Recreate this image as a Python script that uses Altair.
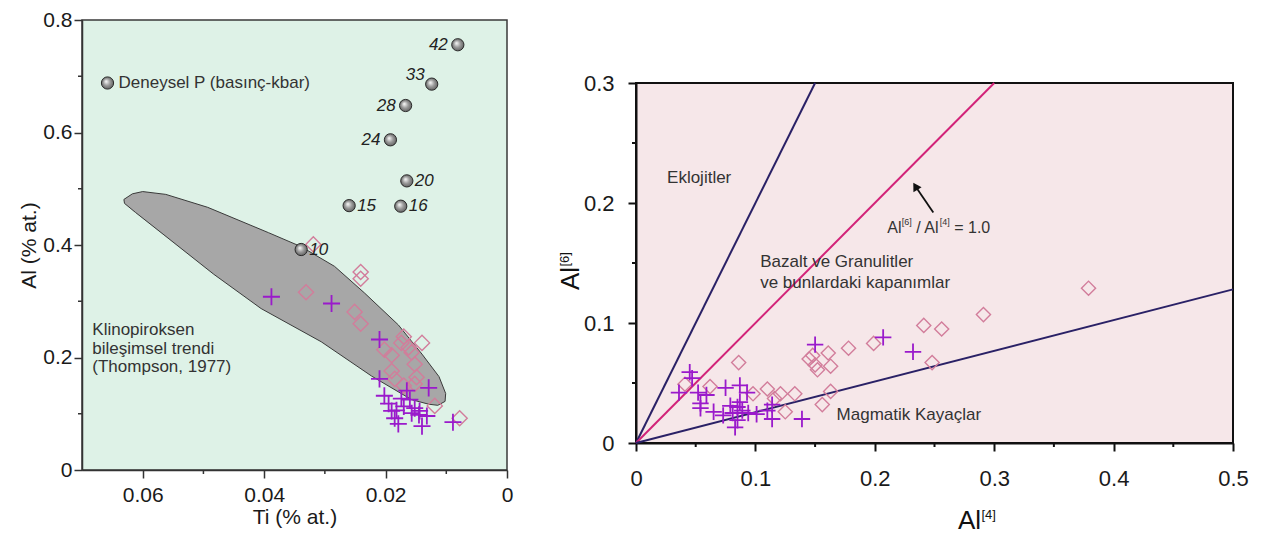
import altair as alt
import pandas as pd

FONT = "Liberation Sans"

# ---------------- Left panel data (Ti vs Al) ----------------
L_X_TICKS = [0.06, 0.04, 0.02, 0]
L_X_MINOR = [0.05, 0.03, 0.01]
L_Y_TICKS = [0, 0.2, 0.4, 0.6, 0.8]
L_Y_MINOR = [0.1, 0.3, 0.5, 0.7]

P_TI = [0.0081, 0.0124, 0.0167, 0.0192, 0.0165, 0.0175, 0.0260, 0.0339]
P_AL = [0.756, 0.686, 0.648, 0.587, 0.514, 0.469, 0.470, 0.392]
P_LABEL = ["42", "33", "28", "24", "20", "16", "15", "10"]

LEGEND_TI = [0.0658]
LEGEND_AL = [0.688]
LEGEND_TEXT = ["Deneysel P (basınç-kbar)"]

TREND_TI = [0.0631, 0.0617, 0.0600, 0.0562, 0.0493, 0.0393, 0.0339, 0.0284, 0.0235,
            0.0179, 0.0140, 0.0112, 0.0101, 0.0102, 0.0114, 0.0129, 0.0157, 0.0223,
            0.0306, 0.0405, 0.0483, 0.0565, 0.0612, 0.0630, 0.0631]
TREND_AL = [0.481, 0.491, 0.495, 0.490, 0.467, 0.422, 0.397, 0.362, 0.315,
            0.258, 0.206, 0.166, 0.136, 0.122, 0.115, 0.117, 0.125, 0.167,
            0.228, 0.287, 0.348, 0.418, 0.458, 0.474, 0.481]
TREND_TEXT = ["Klinopiroksen", "bileşimsel trendi", "(Thompson, 1977)"]
TREND_TEXT_TI = [0.0683, 0.0683, 0.0683]
TREND_TEXT_AL = [0.249, 0.216, 0.183]

L_CROSS_TI = [0.0388, 0.0289, 0.0210, 0.0210, 0.0129, 0.0202, 0.0195, 0.0190, 0.0185,
              0.0179, 0.0165, 0.0160, 0.0170, 0.0152, 0.0145, 0.0140, 0.0132, 0.0144,
              0.0089, 0.0157, 0.0174, 0.0182]
L_CROSS_AL = [0.308, 0.296, 0.232, 0.162, 0.146, 0.132, 0.118, 0.105, 0.092,
              0.082, 0.141, 0.125, 0.113, 0.110, 0.098, 0.078, 0.096, 0.105,
              0.085, 0.101, 0.127, 0.106]

L_DIAM_TI = [0.0319, 0.0241, 0.0241, 0.0331, 0.0251, 0.0241, 0.0170, 0.0174, 0.0162,
             0.0157, 0.0140, 0.0202, 0.0190, 0.0152, 0.0190, 0.0185, 0.0149, 0.0152,
             0.0170, 0.0119, 0.0078]
L_DIAM_AL = [0.401, 0.352, 0.340, 0.316, 0.281, 0.260, 0.237, 0.226, 0.218,
             0.209, 0.226, 0.214, 0.204, 0.188, 0.176, 0.162, 0.165, 0.153,
             0.150, 0.114, 0.092]

# ---------------- Right panel data (Al[4] vs Al[6]) ----------------
R_X_TICKS = [0, 0.1, 0.2, 0.3, 0.4, 0.5]
R_X_MINOR = [0.05, 0.15, 0.25, 0.35, 0.45]
R_Y_TICKS = [0, 0.1, 0.2, 0.3]
R_Y_MINOR = [0.05, 0.15, 0.25]

R_CROSS_X = [0.036, 0.045, 0.047, 0.052, 0.054, 0.059, 0.054, 0.075, 0.065, 0.087,
             0.093, 0.079, 0.081, 0.085, 0.083, 0.087, 0.089, 0.073, 0.094, 0.101,
             0.110, 0.114, 0.114, 0.139, 0.150, 0.207, 0.232, 0.085]
R_CROSS_Y = [0.042, 0.059, 0.054, 0.042, 0.033, 0.040, 0.029, 0.046, 0.026, 0.048,
             0.042, 0.031, 0.025, 0.019, 0.013, 0.034, 0.027, 0.023, 0.025, 0.024,
             0.027, 0.032, 0.020, 0.020, 0.082, 0.088, 0.076, 0.030]

R_DIAM_X = [0.041, 0.062, 0.086, 0.098, 0.110, 0.116, 0.121, 0.133, 0.125, 0.145,
            0.148, 0.150, 0.152, 0.161, 0.163, 0.156, 0.163, 0.178, 0.199, 0.241,
            0.256, 0.248, 0.291, 0.379]
R_DIAM_Y = [0.049, 0.047, 0.067, 0.041, 0.045, 0.037, 0.041, 0.041, 0.026, 0.070,
            0.073, 0.065, 0.061, 0.075, 0.064, 0.032, 0.043, 0.079, 0.083, 0.098,
            0.095, 0.067, 0.107, 0.129]

LINE_STEEP_X = [0, 0.15]
LINE_STEEP_Y = [0, 0.3]
LINE_ONE_X = [0, 0.3]
LINE_ONE_Y = [0, 0.3]
LINE_LOW_X = [0, 0.5]
LINE_LOW_Y = [0, 0.128]

ARROW_TAIL = (0.249, 0.192)
ARROW_HEAD = (0.234, 0.214)

R_TEXT = ["Eklojitler", "Bazalt ve Granulitler", "ve bunlardaki kapanımlar", "Magmatik Kayaçlar"]
R_TEXT_X = [0.026, 0.104, 0.104, 0.168]
R_TEXT_Y = [0.221, 0.151, 0.133, 0.023]

RATIO_POS = (0.2104, 0.179)

# ---------------- sizes & styles ----------------
W_L, H_L = 425, 450
W_R, H_R = 597, 360
SPACER_H = 50
CROSS_COLOR = "#9A1ACB"
DIAM_COLOR = "#D27D9B"
PLUS = "M-1,0L1,0M0,-1L0,1"
TXT = "#333333"

# ---------------- Left chart ----------------
xL_scale = alt.Scale(domain=[0.07, 0], nice=False, zero=False)
yL_scale = alt.Scale(domain=[0, 0.8], nice=False)
xL_axis = alt.Axis(values=L_X_TICKS, format="~g", title="Ti (% at.)", labelFlush=False,
                   tickSize=8, labelPadding=6, titlePadding=1, labelFontSize=21,
                   titleFontSize=21, domainColor="#333", tickColor="#333")
yL_axis = alt.Axis(values=L_Y_TICKS, format="~g", title="Al (% at.)", tickSize=8,
                   labelPadding=2, titlePadding=3, labelFontSize=21, titleFontSize=21,
                   domainColor="#333", tickColor="#333")


def XL(f="x"):
    return alt.X(f"{f}:Q", scale=xL_scale, axis=xL_axis)


def YL(f="y"):
    return alt.Y(f"{f}:Q", scale=yL_scale, axis=yL_axis)


trend_df = pd.DataFrame({"x": TREND_TI, "y": TREND_AL, "i": list(range(len(TREND_TI)))})
trend = alt.Chart(trend_df).mark_line(fill="#a7a7a7", stroke="#3a3a3a", strokeWidth=1).encode(
    x=XL(), y=YL(), order="i:Q")

trend_txt = alt.Chart(pd.DataFrame({"x": TREND_TEXT_TI, "y": TREND_TEXT_AL, "t": TREND_TEXT})).mark_text(
    align="left", baseline="middle", fontSize=17, color=TXT, font=FONT).encode(x=XL(), y=YL(), text="t:N")

l_diam = alt.Chart(pd.DataFrame({"x": L_DIAM_TI, "y": L_DIAM_AL})).mark_point(
    shape="diamond", filled=False, color=DIAM_COLOR, size=230, strokeWidth=1.4, opacity=1).encode(x=XL(), y=YL())

l_cross = alt.Chart(pd.DataFrame({"x": L_CROSS_TI, "y": L_CROSS_AL})).mark_point(
    shape=PLUS, filled=False, color=CROSS_COLOR, size=290, strokeWidth=1.8, opacity=1).encode(x=XL(), y=YL())

grad = alt.RadialGradient(
    gradient="radial",
    stops=[alt.GradientStop(color="#ffffff", offset=0),
           alt.GradientStop(color="#9c9c9c", offset=0.5),
           alt.GradientStop(color="#5a5a5a", offset=1)],
    x1=0.38, y1=0.36, r1=0.0, x2=0.5, y2=0.5, r2=0.55)

p_df = pd.DataFrame({"x": P_TI, "y": P_AL, "label": P_LABEL})
p_pts = alt.Chart(p_df).mark_point(shape="circle", filled=True, fill=grad, stroke="#2a2a2a",
                                   strokeWidth=1, size=150, opacity=1).encode(x=XL(), y=YL())
leg_df = pd.DataFrame({"x": LEGEND_TI, "y": LEGEND_AL, "t": LEGEND_TEXT})
leg_pt = alt.Chart(leg_df).mark_point(shape="circle", filled=True, fill=grad, stroke="#2a2a2a",
                                      strokeWidth=1, size=150, opacity=1).encode(x=XL(), y=YL())
leg_txt = alt.Chart(leg_df).mark_text(align="left", baseline="middle", dx=11, fontSize=17,
                                      color=TXT, font=FONT).encode(x=XL(), y=YL(), text="t:N")

lab_left = alt.Chart(p_df).transform_filter(
    alt.FieldOneOfPredicate(field="label", oneOf=["42", "28", "24"])).mark_text(
    align="right", baseline="middle", dx=-10, fontSize=17, fontStyle="italic", color="#222",
    font=FONT).encode(x=XL(), y=YL(), text="label:N")
lab_up = alt.Chart(p_df).transform_filter(
    alt.FieldOneOfPredicate(field="label", oneOf=["33"])).mark_text(
    align="right", baseline="middle", dx=-7, dy=-9, fontSize=17, fontStyle="italic", color="#222",
    font=FONT).encode(x=XL(), y=YL(), text="label:N")
lab_right = alt.Chart(p_df).transform_filter(
    alt.FieldOneOfPredicate(field="label", oneOf=["20", "16", "15", "10"])).mark_text(
    align="left", baseline="middle", dx=8, fontSize=17, fontStyle="italic", color="#222",
    font=FONT).encode(x=XL(), y=YL(), text="label:N")

l_minx = alt.Chart(pd.DataFrame({"x": L_X_MINOR})).mark_rule(color="#333", strokeWidth=1.5).encode(
    x=XL(), y=alt.value(H_L), y2=alt.value(H_L + 4))
l_miny = alt.Chart(pd.DataFrame({"y": L_Y_MINOR})).mark_rule(color="#333", strokeWidth=1.5).encode(
    y=YL(), x=alt.value(0), x2=alt.value(-4))

left = alt.layer(trend, trend_txt, l_diam, l_cross, p_pts, leg_pt, leg_txt, lab_left, lab_up,
                 lab_right, l_minx, l_miny).properties(
    width=W_L, height=H_L,
    view=alt.ViewBackground(fill="#DEF2E7", stroke="#3a3a3a", strokeWidth=1.5))

# ---------------- Right chart ----------------
xR_scale = alt.Scale(domain=[0, 0.5], nice=False)
yR_scale = alt.Scale(domain=[0, 0.3], nice=False)
xR_axis = alt.Axis(values=R_X_TICKS, format="~g", title=None, labelFlush=False, tickSize=8,
                   labelPadding=17, labelFontSize=22, domainColor="#111", tickColor="#111",
                   domainWidth=2, tickWidth=2)
yR_axis = alt.Axis(values=R_Y_TICKS, format="~g", title=None, tickSize=8, labelPadding=14,
                   labelFontSize=22, domainColor="#111", tickColor="#111", domainWidth=2, tickWidth=2)


def XR(f="x"):
    return alt.X(f"{f}:Q", scale=xR_scale, axis=xR_axis)


def YR(f="y"):
    return alt.Y(f"{f}:Q", scale=yR_scale, axis=yR_axis)


def line(xs, ys, color):
    return alt.Chart(pd.DataFrame({"x": xs, "y": ys})).mark_line(color=color, strokeWidth=2).encode(
        x=XR(), y=YR())


l1 = line(LINE_STEEP_X, LINE_STEEP_Y, "#2A2166")
l2 = line(LINE_ONE_X, LINE_ONE_Y, "#D22378")
l3 = line(LINE_LOW_X, LINE_LOW_Y, "#2A2166")

r_diam = alt.Chart(pd.DataFrame({"x": R_DIAM_X, "y": R_DIAM_Y})).mark_point(
    shape="diamond", filled=False, color=DIAM_COLOR, size=200, strokeWidth=1.4, opacity=1).encode(x=XR(), y=YR())
r_cross = alt.Chart(pd.DataFrame({"x": R_CROSS_X, "y": R_CROSS_Y})).mark_point(
    shape=PLUS, filled=False, color=CROSS_COLOR, size=270, strokeWidth=1.8, opacity=1).encode(x=XR(), y=YR())

r_txt = alt.Chart(pd.DataFrame({"x": R_TEXT_X, "y": R_TEXT_Y, "t": R_TEXT})).mark_text(
    align="left", baseline="middle", fontSize=17, color=TXT, font=FONT).encode(x=XR(), y=YR(), text="t:N")

arrow_df = pd.DataFrame({"x": [ARROW_TAIL[0]], "y": [ARROW_TAIL[1]],
                         "x2": [ARROW_HEAD[0]], "y2": [ARROW_HEAD[1]]})
arrow = alt.Chart(arrow_df).mark_rule(color="#111", strokeWidth=1.8).encode(
    x=XR(), y=YR(), x2="x2:Q", y2="y2:Q")
head = alt.Chart(pd.DataFrame({"x": [ARROW_HEAD[0]], "y": [ARROW_HEAD[1]]})).mark_point(
    shape="triangle-up", filled=True, color="#111", size=90, angle=329, opacity=1).encode(x=XR(), y=YR())

ratio_df = pd.DataFrame({"x": [RATIO_POS[0]], "y": [RATIO_POS[1]]})
ratio_parts = [("Al", 16, 0, 0), ("[6]", 9, 14.5, -6), ("/ Al", 16, 29, 0), ("[4]", 9, 52.5, -6),
               ("= 1.0", 16, 67, 0)]
ratio_layers = [
    alt.Chart(ratio_df).mark_text(text=t, align="left", baseline="middle", fontSize=fs, dx=dx, dy=dy,
                                  color=TXT, font=FONT).encode(x=XR(), y=YR())
    for (t, fs, dx, dy) in ratio_parts
]

one = pd.DataFrame({"k": [0]})
ytitle = [
    alt.Chart(one).mark_text(text="Al", angle=270, align="left", baseline="alphabetic", fontSize=26,
                             color="#111", font=FONT).encode(x=alt.value(-57), y=alt.value(207)),
    alt.Chart(one).mark_text(text="[6]", angle=270, align="left", baseline="alphabetic", fontSize=13,
                             dx=23.5, dy=-10, color="#111", font=FONT).encode(x=alt.value(-57), y=alt.value(207)),
]
xtitle = [
    alt.Chart(one).mark_text(text="Al", align="left", baseline="alphabetic", fontSize=26,
                             color="#111", font=FONT).encode(x=alt.value(322), y=alt.value(446)),
    alt.Chart(one).mark_text(text="[4]", align="left", baseline="alphabetic", fontSize=13,
                             dx=23.5, dy=-10, color="#111", font=FONT).encode(x=alt.value(322), y=alt.value(446)),
]

r_minx = alt.Chart(pd.DataFrame({"x": R_X_MINOR})).mark_rule(color="#111", strokeWidth=2).encode(
    x=XR(), y=alt.value(H_R), y2=alt.value(H_R + 4))
r_miny = alt.Chart(pd.DataFrame({"y": R_Y_MINOR})).mark_rule(color="#111", strokeWidth=2).encode(
    y=YR(), x=alt.value(0), x2=alt.value(-4))

right = alt.layer(l1, l2, l3, r_diam, r_cross, r_txt, arrow, head, *ratio_layers, *ytitle, *xtitle,
                  r_minx, r_miny).properties(
    width=W_R, height=H_R,
    view=alt.ViewBackground(fill="#F6E7E9", stroke="#111", strokeWidth=2))

# empty spacer that pushes the right panel down
spacer = alt.Chart(one).mark_text(text="").encode(x=alt.value(0), y=alt.value(0)).properties(
    width=W_R, height=SPACER_H,
    view=alt.ViewBackground(fill="transparent", stroke="transparent"))

right_col = alt.vconcat(spacer, right, spacing=0)

chart = alt.hconcat(left, right_col, spacing=43).properties(
    padding={"left": 10, "top": 0, "right": 4, "bottom": 0}
).configure_axis(
    grid=False, labelFont=FONT, titleFont=FONT, titleFontWeight="normal",
    labelColor="#1a1a1a", titleColor="#1a1a1a", domainWidth=1.5, tickWidth=1.5
).configure_text(font=FONT)

chart.save("out.html", embed_options={"renderer": "svg", "actions": False})
